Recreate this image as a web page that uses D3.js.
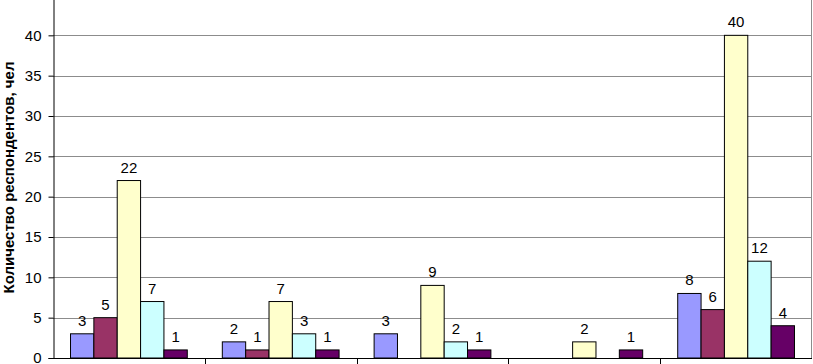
<!DOCTYPE html>
<html>
<head>
<meta charset="utf-8">
<script src="https://cdn.jsdelivr.net/npm/d3@7"></script>
<style>
  body { margin: 0; background: #fff; }
  svg text { font-family: "Liberation Sans", Arial, sans-serif; }
</style>
</head>
<body>
<div id="chart"></div>
<script>
// categories (their labels are cut off in the picture)
const categories = ["g1", "g2", "g3", "g4", "g5"];
const seriesNames = ["s1", "s2", "s3", "s4", "s5"];
const seriesColors = ["#9999ff", "#993366", "#ffffcc", "#ccffff", "#660066"];
// values per series, one per category; null = no bar
const s1 = [3, 2, 3, null, 8];
const s2 = [5, 1, null, null, 6];
const s3 = [22, 7, 9, 2, 40];
const s4 = [7, 3, 2, null, 12];
const s5 = [1, 1, 1, 1, 4];
const yTicks = [0, 5, 10, 15, 20, 25, 30, 35, 40];
const yMax = 45;
const yLabel = "Количество респондентов, чел";

const series = [s1, s2, s3, s4, s5];

const W = 813, H = 364;
const margin = {left: 53, right: 1, top: -5, bottom: 6};
const width = W - margin.left - margin.right;
const height = H - margin.top - margin.bottom;

const svg = d3.select("#chart").append("svg")
  .attr("width", W)
  .attr("height", H);

const g = svg.append("g")
  .attr("transform", `translate(${margin.left},${margin.top})`);

const x = d3.scaleBand()
  .domain(categories)
  .range([0, width]);

// 5 bars + 150% gap
const barW = x.bandwidth() / 6.5;
const xs = d3.scaleBand()
  .domain(seriesNames)
  .range([barW * 0.75, barW * 5.75]);

const y = d3.scaleLinear()
  .domain([0, yMax])
  .range([height, 0]);

// gridlines
g.selectAll(".grid")
  .data(yTicks.filter(d => d > 0))
  .join("line")
  .attr("class", "grid")
  .attr("x1", 0)
  .attr("x2", width)
  .attr("y1", d => Math.round(y(d)) + 0.5)
  .attr("y2", d => Math.round(y(d)) + 0.5)
  .attr("stroke", "#8c8c8c")
  .attr("stroke-width", 1);

// right border of plot area
g.append("line")
  .attr("x1", width - 0.5).attr("x2", width - 0.5)
  .attr("y1", 0).attr("y2", height)
  .attr("stroke", "#8c8c8c");

// bars
series.forEach((vals, si) => {
  const data = vals.map((v, ci) => ({cat: categories[ci], v}))
    .filter(d => d.v != null);

  g.selectAll(".bar-" + si)
    .data(data)
    .join("rect")
    .attr("class", "bar-" + si)
    .attr("x", d => x(d.cat) + xs(seriesNames[si]))
    .attr("y", d => y(d.v))
    .attr("width", xs.bandwidth())
    .attr("height", d => y(0) - y(d.v))
    .attr("fill", seriesColors[si])
    .attr("stroke", "#000")
    .attr("stroke-width", 1);

  g.selectAll(".lbl-" + si)
    .data(data)
    .join("text")
    .attr("class", "lbl-" + si)
    .attr("x", d => x(d.cat) + xs(seriesNames[si]) + xs.bandwidth() / 2)
    .attr("y", d => y(d.v) - 8)
    .attr("text-anchor", "middle")
    .attr("font-size", 15)
    .attr("fill", "#000")
    .text(d => d.v);
});

// y axis
const yAxis = g.append("g")
  .attr("transform", "translate(0.5,0)")
  .call(d3.axisLeft(y).tickValues(yTicks).tickSize(5).tickPadding(7));
yAxis.select(".domain").attr("stroke", "#000");
yAxis.selectAll(".tick line").attr("stroke", "#000");
yAxis.selectAll(".tick text")
  .attr("font-size", 15)
  .attr("fill", "#000")
  .style("font-family", "'Liberation Sans', Arial, sans-serif");

// x axis baseline with category ticks
const xAxis = g.append("g")
  .attr("transform", `translate(0,${Math.round(y(0)) + 0.5})`);
xAxis.append("line")
  .attr("x1", 0).attr("x2", width)
  .attr("stroke", "#000");
xAxis.selectAll(".ctick")
  .data(categories.slice(1))
  .join("line")
  .attr("class", "ctick")
  .attr("x1", d => Math.round(x(d)) + 0.5)
  .attr("x2", d => Math.round(x(d)) + 0.5)
  .attr("y1", 0).attr("y2", 6)
  .attr("stroke", "#000");

// y axis title
svg.append("text")
  .attr("transform", `translate(14,${margin.top + y(yMax / 2) + 1}) rotate(-90)`)
  .attr("text-anchor", "middle")
  .attr("font-size", 15)
  .attr("font-weight", "bold")
  .text(yLabel);
</script>
</body>
</html>
